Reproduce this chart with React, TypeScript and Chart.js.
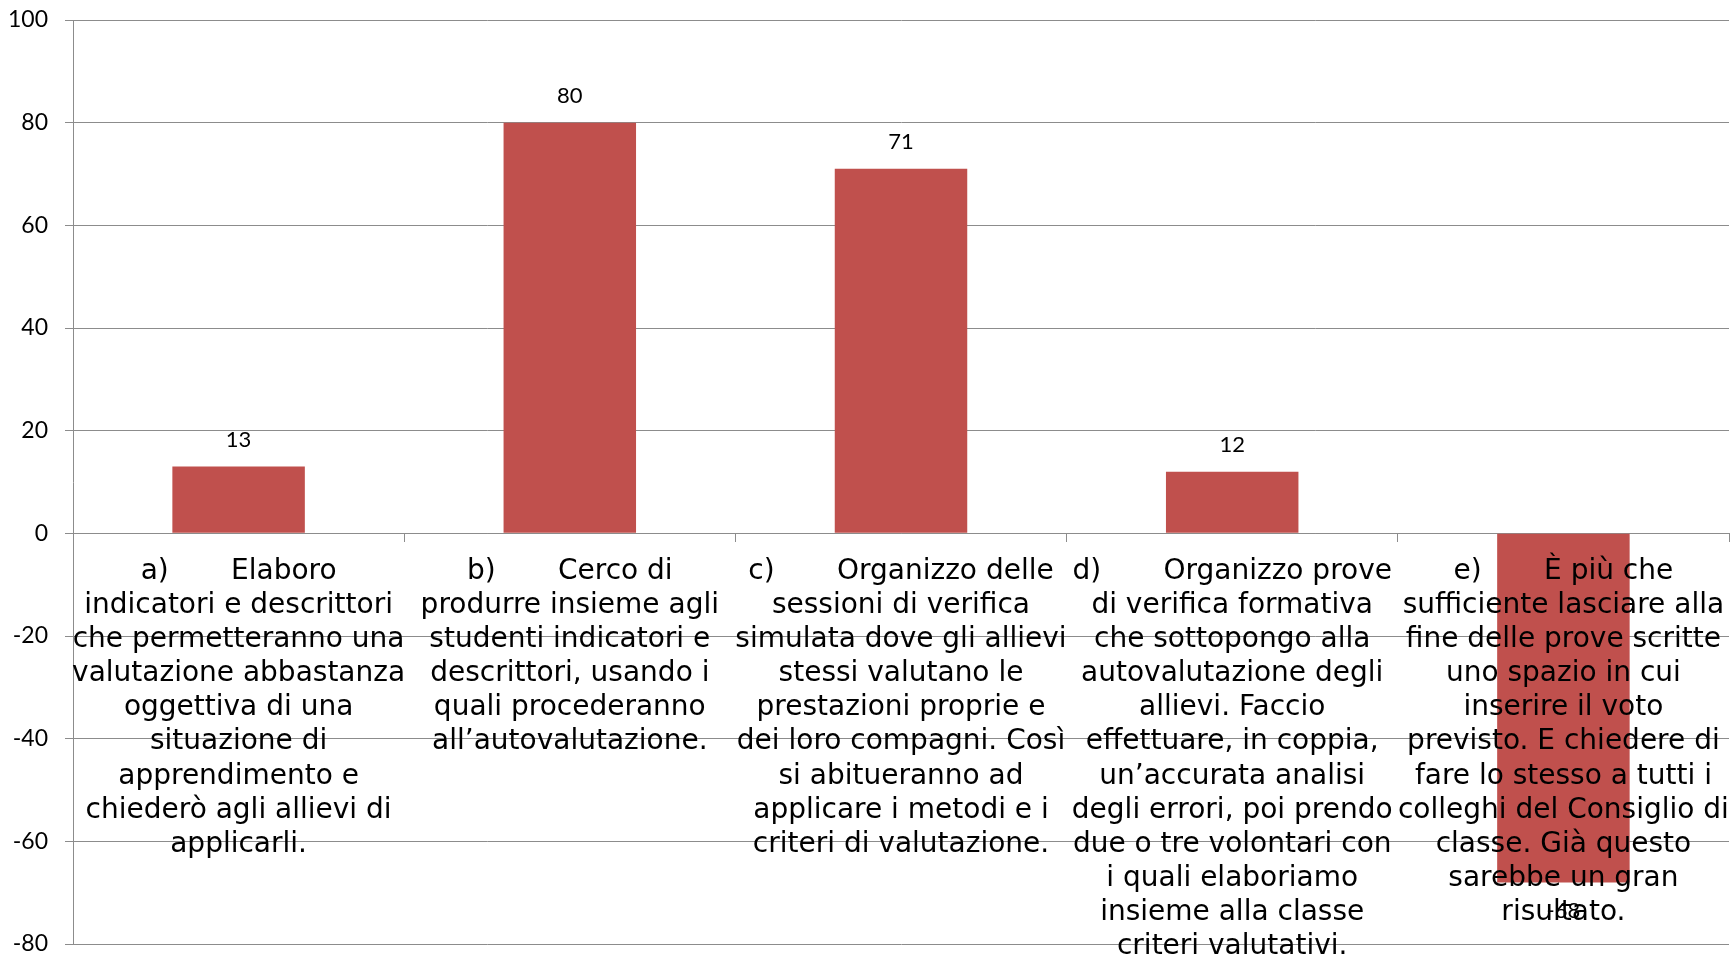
import React, { useEffect, useRef } from "react";
import { Chart, registerables } from "chart.js";

Chart.register(...registerables);

const categories: string[][] = [
  ["a)       Elaboro", "indicatori e descrittori", "che permetteranno una", "valutazione abbastanza", "oggettiva di una", "situazione di", "apprendimento e", "chiederò agli allievi di", "applicarli."],
  ["b)       Cerco di", "produrre insieme agli", "studenti indicatori e", "descrittori, usando i", "quali procederanno", "all’autovalutazione."],
  ["c)       Organizzo delle", "sessioni di verifica", "simulata dove gli allievi", "stessi valutano le", "prestazioni proprie e", "dei loro compagni. Così", "si abitueranno ad", "applicare i metodi e i", "criteri di valutazione."],
  ["d)       Organizzo prove", "di verifica formativa", "che sottopongo alla", "autovalutazione degli", "allievi. Faccio", "effettuare, in coppia,", "un’accurata analisi", "degli errori, poi prendo", "due o tre volontari con", "i quali elaboriamo", "insieme alla classe", "criteri valutativi."],
  ["e)       È più che", "sufficiente lasciare alla", "fine delle prove scritte", "uno spazio in cui", "inserire il voto", "previsto. E chiedere di", "fare lo stesso a tutti i", "colleghi del Consiglio di", "classe. Già questo", "sarebbe un gran", "risultato."],
];

const values: number[] = [13, 80, 71, 12, -68];

const yMin = -80;
const yMax = 100;
const yStep = 20;

const barColor = "#C0504D";
const gridColor = "#8C8C8C";

const dataLabelPlugin = {
  id: "dataLabels",
  afterDatasetsDraw(chart: any) {
    const ctx = chart.ctx;
    const meta = chart.getDatasetMeta(0);
    ctx.save();
    ctx.font = "22px Lato";
    ctx.fillStyle = "#000000";
    ctx.textAlign = "center";
    ctx.textBaseline = "middle";
    meta.data.forEach((bar: any, i: number) => {
      const v = values[i];
      const y = v >= 0 ? bar.y - 27 : bar.y + 29;
      ctx.fillText(String(v), bar.x, y);
    });
    ctx.restore();
  },
};

export default function App() {
  const ref = useRef<HTMLCanvasElement | null>(null);

  useEffect(() => {
    if (!ref.current) return;
    const chart = new Chart(ref.current, {
      type: "bar",
      data: {
        labels: categories,
        datasets: [
          {
            data: values,
            backgroundColor: barColor,
            borderWidth: 0,
            categoryPercentage: 1,
            barPercentage: 0.4,
          },
        ],
      },
      options: {
        responsive: false,
        animation: false,
        layout: { padding: { top: 20, right: 4, bottom: 13, left: 0 } },
        plugins: {
          legend: { display: false },
          tooltip: { enabled: false },
        },
        scales: {
          x: {
            position: { y: 0 } as any,
            afterFit: (scale: any) => {
              scale.paddingLeft = 0;
              scale.paddingRight = 0;
              scale.paddingTop = 0;
              scale.paddingBottom = 0;
            },
            grid: {
              display: true,
              drawOnChartArea: false,
              drawTicks: true,
              tickLength: 8,
              color: gridColor,
              offset: true,
            },
            border: { display: true, color: gridColor, width: 1 },
            ticks: {
              autoSkip: false,
              maxRotation: 0,
              minRotation: 0,
              padding: 13,
              color: "#000000",
              z: 1,
              font: { family: "'DejaVu Sans'", size: 28, lineHeight: 1.22 },
            },
          },
          y: {
            min: yMin,
            max: yMax,
            afterFit: (scale: any) => {
              scale.width = 73;
              scale.paddingTop = 0;
              scale.paddingBottom = 0;
            },
            grid: {
              color: gridColor,
              lineWidth: 1,
              tickLength: 8,
              drawTicks: true,
            },
            border: { display: true, color: gridColor, width: 1 },
            ticks: {
              stepSize: yStep,
              padding: 17,
              color: "#000000",
              font: { family: "Lato", size: 23 },
            },
          },
        },
      },
      plugins: [dataLabelPlugin],
    });
    return () => chart.destroy();
  }, []);

  return (
    <div style={{ position: "absolute", left: 0, top: 0, width: 1733, height: 957, background: "#fff" }}>
      <canvas ref={ref} width={1733} height={957} style={{ display: "block" }} />
    </div>
  );
}
